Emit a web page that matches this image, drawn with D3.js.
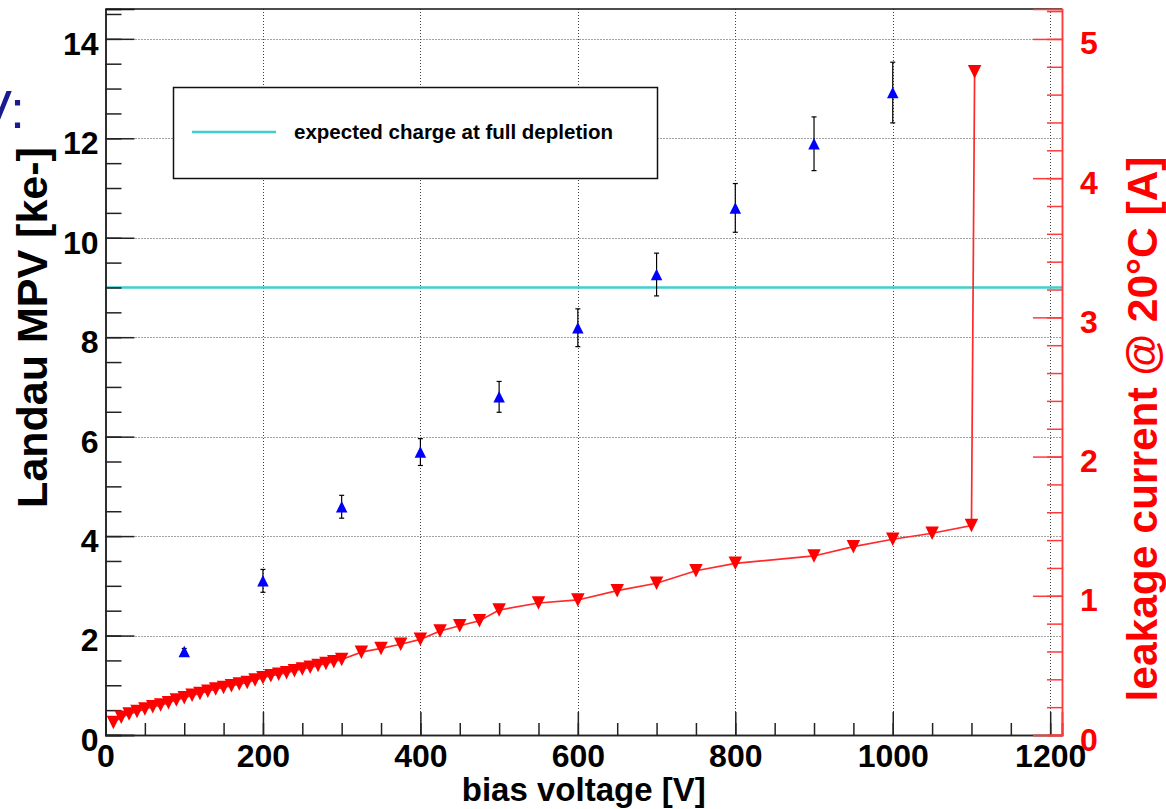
<!DOCTYPE html>
<html>
<head>
<meta charset="utf-8">
<script src="https://cdn.jsdelivr.net/npm/d3@7"></script>
<style>
  html, body { margin: 0; padding: 0; background: #fff; }
  svg { display: block; font-family: "Liberation Sans", Arial, Helvetica, sans-serif; }
</style>
</head>
<body>
<svg id="chart" width="1166" height="809"></svg>
<script>
// ---------- data ----------
const xTickValues = [0, 200, 400, 600, 800, 1000, 1200];
const leftTickValues = [0, 2, 4, 6, 8, 10, 12, 14];
const rightTickValues = [0, 1, 2, 3, 4, 5];

const xTitle = "bias voltage [V]";
const leftTitle = "Landau MPV [ke-]";
const rightTitle = "leakage current @ 20\u00B0C [A]";
const legendLabel = "expected charge at full depletion";

// Landau MPV (blue triangles, left axis)
const mpvVoltage = [100, 200, 300, 400, 500, 600, 700, 800, 900, 1000];
const mpvValue   = [1.68, 3.10, 4.59, 5.69, 6.80, 8.19, 9.26, 10.60, 11.89, 12.92];
const mpvError   = [0.06, 0.23, 0.23, 0.27, 0.31, 0.38, 0.43, 0.49, 0.54, 0.61];

// expected charge at full depletion (cyan line, left axis)
const expectedCharge = 9.0;

// leakage current (red inverted triangles, right axis)
const ivVoltage = [10, 20, 30, 40, 50, 60, 70, 80, 90, 100,
                   110, 120, 130, 140, 150, 160, 170, 180, 190, 200,
                   210, 220, 230, 240, 250, 260, 270, 280, 290, 300,
                   325, 350, 375, 400, 425, 450, 475, 500,
                   550, 600, 650, 700, 750, 800,
                   900, 950, 1000, 1050, 1100, 1104];
const ivCurrent = [0.090, 0.127, 0.151, 0.168, 0.187, 0.203, 0.215, 0.232, 0.251, 0.268,
                   0.285, 0.299, 0.315, 0.330, 0.342, 0.354, 0.366, 0.378, 0.395, 0.412,
                   0.426, 0.436, 0.448, 0.462, 0.474, 0.486, 0.500, 0.514, 0.527, 0.542,
                   0.595, 0.622, 0.652, 0.687, 0.747, 0.785, 0.821, 0.898,
                   0.948, 0.970, 1.037, 1.090, 1.180, 1.233,
                   1.286, 1.353, 1.406, 1.449, 1.504, 4.765];

// ---------- layout ----------
const svg = d3.select("#chart");
const L = 105.5, R = 1062, T = 9, B = 735;

const x = d3.scaleLinear().domain([0, 1215]).range([L, R]);
const yL = d3.scaleLinear().domain([0, 14.6]).range([B, T]);
const yR = d3.scaleLinear().domain([0, 5.215]).range([B, T]);

const FONT_TICK = 32;
const RED = "#ff0000";

// background
svg.append("rect").attr("width", 1166).attr("height", 809).attr("fill", "#fff");

// partially visible slide text at top-left
svg.append("text")
  .attr("x", 25).attr("y", 128)
  .attr("text-anchor", "end")
  .attr("font-size", 54)
  .attr("fill", "#1b1b8f")
  .text("V:");

// ---------- grid ----------
const grid = svg.append("g").attr("stroke", "#444").attr("stroke-width", 1).attr("stroke-dasharray", "1,2");
grid.selectAll("line.v").data(xTickValues.filter(d => d > 0)).join("line")
  .attr("x1", d => Math.round(x(d)) + 0.5).attr("x2", d => Math.round(x(d)) + 0.5)
  .attr("y1", T).attr("y2", B);
grid.selectAll("line.h").data(leftTickValues.filter(d => d > 0)).join("line")
  .attr("x1", L).attr("x2", R)
  .attr("y1", d => Math.round(yL(d)) + 0.5).attr("y2", d => Math.round(yL(d)) + 0.5);

// expected charge line
svg.append("line")
  .attr("x1", L).attr("x2", R)
  .attr("y1", yL(expectedCharge)).attr("y2", yL(expectedCharge))
  .attr("stroke", "#3fcfcf").attr("stroke-width", 2.5);

// ---------- axes ----------
function styleAxis(g, color, width) {
  g.select(".domain").attr("stroke", color).attr("stroke-width", width);
  g.selectAll(".tick line").attr("stroke", color).attr("stroke-width", width);
  g.selectAll(".tick text")
    .attr("fill", color === "#222" ? "#000" : RED)
    .attr("font-size", FONT_TICK)
    .attr("font-weight", "bold")
    .attr("font-family", "'Liberation Sans', Arial, Helvetica, sans-serif");
}

// x axis
const gxMinor = svg.append("g").attr("transform", `translate(0,${B})`)
  .call(d3.axisBottom(x).tickValues(d3.range(0, 1201, 50)).tickSize(-12).tickFormat(""));
styleAxis(gxMinor, "#222", 1.5);
const gx = svg.append("g").attr("transform", `translate(0,${B})`)
  .call(d3.axisBottom(x).tickValues(xTickValues).tickSize(-23).tickPadding(9).tickFormat(d3.format("d")));
styleAxis(gx, "#222", 1.5);

// left axis
const gyMinor = svg.append("g").attr("transform", `translate(${L},0)`)
  .call(d3.axisLeft(yL).tickValues(d3.range(0, 14.51, 0.5)).tickSize(-16).tickFormat(""));
styleAxis(gyMinor, "#222", 1.5);
const gy = svg.append("g").attr("transform", `translate(${L},0)`)
  .call(d3.axisLeft(yL).tickValues(leftTickValues).tickSize(-29).tickPadding(7).tickFormat(d3.format("d")));
styleAxis(gy, "#222", 1.5);
gy.selectAll(".tick text").attr("dy", "0.48em");

// top frame
svg.append("line").attr("x1", L).attr("x2", R).attr("y1", T).attr("y2", T)
  .attr("stroke", "#111").attr("stroke-width", 1.5);

// right axis (red)
const gyRMinor = svg.append("g").attr("transform", `translate(${R},0)`)
  .call(d3.axisRight(yR).tickValues(d3.range(0, 5.21, 0.2)).tickSize(-15).tickFormat(""));
styleAxis(gyRMinor, "#ff3a3a", 1.5);
const gyR = svg.append("g").attr("transform", `translate(${R},0)`)
  .call(d3.axisRight(yR).tickValues(rightTickValues).tickSize(-29).tickPadding(18).tickFormat(d3.format("d")));
styleAxis(gyR, "#ff3a3a", 1.5);
gyR.selectAll(".tick text").attr("dy", "0.47em").attr("fill", RED);

// ---------- titles ----------
svg.append("text")
  .attr("x", (L + R) / 2).attr("y", 801)
  .attr("text-anchor", "middle")
  .attr("font-size", 33).attr("font-weight", "bold").attr("fill", "#000")
  .text(xTitle);

svg.append("text")
  .attr("transform", "translate(47,327.5) rotate(-90)")
  .attr("text-anchor", "middle")
  .attr("font-size", 43).attr("font-weight", "bold").attr("fill", "#000")
  .text(leftTitle);

svg.append("text")
  .attr("transform", "translate(1157,429) rotate(-90)")
  .attr("text-anchor", "middle")
  .attr("font-size", 42.5).attr("font-weight", "bold").attr("fill", RED)
  .text(rightTitle);

// ---------- Landau MPV points ----------
const mpv = mpvVoltage.map((v, i) => ({ v, y: mpvValue[i], e: mpvError[i] }));
const eb = svg.append("g").attr("stroke", "#000").attr("stroke-width", 1.2);
eb.selectAll("line.bar").data(mpv).join("line")
  .attr("x1", d => x(d.v)).attr("x2", d => x(d.v))
  .attr("y1", d => yL(d.y + d.e)).attr("y2", d => yL(d.y - d.e));
eb.selectAll("line.capT").data(mpv).join("line")
  .attr("x1", d => x(d.v) - 2.5).attr("x2", d => x(d.v) + 2.5)
  .attr("y1", d => yL(d.y + d.e)).attr("y2", d => yL(d.y + d.e));
eb.selectAll("line.capB").data(mpv).join("line")
  .attr("x1", d => x(d.v) - 2.5).attr("x2", d => x(d.v) + 2.5)
  .attr("y1", d => yL(d.y - d.e)).attr("y2", d => yL(d.y - d.e));

const triUp = (s) => `M0,${-s/2}L${s/2},${s/2}L${-s/2},${s/2}Z`;
const triDown = (s) => `M0,${s/2}L${s/2},${-s/2}L${-s/2},${-s/2}Z`;

svg.append("g").selectAll("path").data(mpv).join("path")
  .attr("transform", d => `translate(${x(d.v)},${yL(d.y)})`)
  .attr("d", triUp(11.5))
  .attr("fill", "#0000ff");

// ---------- leakage current ----------
const iv = ivVoltage.map((v, i) => ({ v, c: ivCurrent[i] }));
svg.append("path")
  .datum(iv)
  .attr("d", d3.line().x(d => x(d.v)).y(d => yR(d.c)))
  .attr("fill", "none")
  .attr("stroke", "#ff2a2a")
  .attr("stroke-width", 1.7);

svg.append("g").selectAll("path").data(iv).join("path")
  .attr("transform", d => `translate(${x(d.v)},${yR(d.c)})`)
  .attr("d", triDown(13.5))
  .attr("fill", RED);

// ---------- legend ----------
const lg = svg.append("g");
lg.append("rect")
  .attr("x", 173.5).attr("y", 87.5).attr("width", 484).attr("height", 91)
  .attr("fill", "#fff").attr("stroke", "#111").attr("stroke-width", 1.5);
lg.append("line")
  .attr("x1", 192).attr("x2", 276).attr("y1", 132).attr("y2", 132)
  .attr("stroke", "#3fcfcf").attr("stroke-width", 2.5);
lg.append("text")
  .attr("x", 294).attr("y", 139)
  .attr("font-size", 20.5).attr("font-weight", "bold").attr("fill", "#000")
  .text(legendLabel);
</script>
</body>
</html>
